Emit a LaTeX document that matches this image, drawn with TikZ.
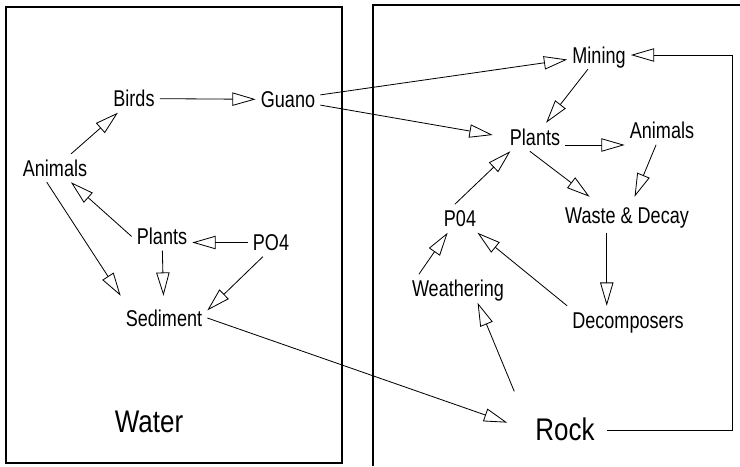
\documentclass[tikz,border=0pt]{standalone}
\usepackage{fontspec}
\setmainfont[FakeStretch=0.79]{Liberation Sans}
\newfontfamily\bigfont[FakeStretch=0.83]{Liberation Sans}
\usetikzlibrary{arrows.meta,calc}
\begin{document}
\begin{tikzpicture}[x=0.03cm,y=-0.03cm]
 	\tikzstyle{lbl}=[inner xsep=0.15cm,inner ysep=0.18cm,text height=0.48cm,text depth=0pt,font=\fontsize{19.5}{22}\selectfont]
 	\tikzstyle{big}=[inner xsep=0.36cm,inner ysep=0.18cm,text height=0.65cm,text depth=0pt,font=\bigfont\fontsize{26.7}{30}\selectfont]
 	\tikzstyle{arr}=[draw,line width=0.7pt,-{Triangle[open,length=0.7cm,width=0.4cm]}]
 	\tikzstyle{frame}=[line width=1pt]
 	\tikzset{every edge/.append style=arr}
 	\useasboundingbox (0,0) rectangle (740,466);
 	% the two boxes
 	\draw[frame] (6,7) rectangle (342,463);
 	\draw[frame] (373,466) -- (373,5) -- (740,5);
 	% water side
 	\node[lbl] 	(birds)		at (134,98.5)	{Birds};
 	\node[lbl] 	(guano)		at (288,99.5)	{Guano};
 	\node[lbl] 	(animalsL)	at (55,168)	{Animals};
 	\node[lbl] 	(plantsL)	at (162,236.5)	{Plants};
 	\node[lbl] 	(po4L)		at (271,242.5)	{PO4};
 	\node[lbl,inner ysep=0.42cm] 	(sediment)	at (164,318)	{Sediment};
 	\node[big,inner xsep=0.15cm] 	(water)		at (149,421.5)	{Water};
 	% rock side
 	\node[lbl] 	(mining)	at (599,55)	{Mining};
 	\node[lbl] 	(plantsR)	at (535,137)	{Plants};
 	\node[lbl] 	(animalsR)	at (662,130.5)	{Animals};
 	\node[lbl,inner ysep=0.3cm] 	(waste)		at (627,215)	{Waste \& Decay};
 	\node[lbl] 	(p04R)		at (460,218.5)	{P04};
 	\node[lbl] 	(weathering)	at (458,288.5)	{Weathering};
 	\node[lbl] 	(decomposers)	at (628,320)	{Decomposers};
 	\node[big] 	(rock)		at (565,430)	{Rock};
 	\coordinate (turn) at (732,432);
 	\path (birds)	edge	(guano)
		(animalsL)	edge	(birds)
		(plantsL.west)	edge	(animalsL)
		(animalsL.240)	edge	(sediment.north west)
		(plantsL)	edge	(sediment)
		(po4L.west)	edge	(po4L.west -| plantsL.east)
		(po4L.240)	edge	(sediment.10)
		(sediment.east)	edge	($(rock.170)+(-16,0)$)

		(guano)	edge	(mining)
		(guano)	edge	($(plantsR.west)+(-12,-2)$);
 	\path (mining)	edge	(plantsR)
		(plantsR.base east)	edge	(plantsR.base east -| animalsR.west)
		(plantsR.250)	edge	(waste.154)
		(animalsR)	edge	(waste)
		(p04R.110)	edge	(plantsR.210)
		(weathering.160)	edge	(p04R.229)
		(decomposers.north west)	edge	(p04R)
		(waste.222)	edge	(waste.222 |- decomposers.north)
		(rock.north west)	edge[shorten <=0.7cm]	(weathering.324);
 	\draw[arr] (rock.east) -| (turn |- mining.east) -- (mining.east);
\end{tikzpicture}
\end{document}
